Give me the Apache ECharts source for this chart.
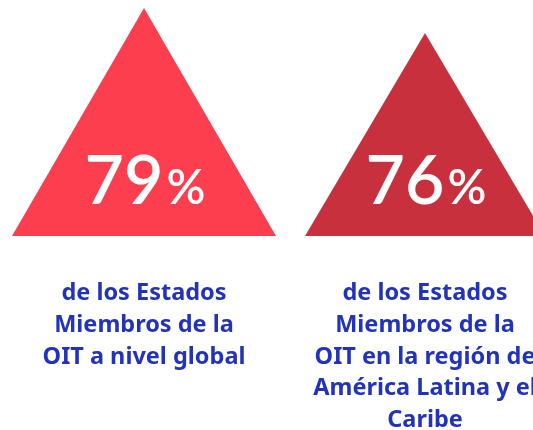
<!DOCTYPE html>
<html lang="es">
<head>
    <meta charset="UTF-8">
    <title>Estados Miembros de la OIT</title>
    <script src="https://cdn.jsdelivr.net/npm/echarts@6.0.0/dist/echarts.min.js"></script>
    <style>
        html, body { margin: 0; padding: 0; background: #fff; }
        #chart { width: 533px; height: 430px; }
    </style>
</head>
<body>
    <div id="chart"></div>

    <script>
        // datos
        const categories = [
            'de los Estados\nMiembros de la\nOIT a nivel global',
            'de los Estados\nMiembros de la\nOIT en la región de\nAmérica Latina y el\nCaribe'
        ];
        const values = [79, 76];
        const colors = ['#fd3e4f', '#c8303e'];
        const widths = [264, 240];

        const Y_MIN = 51.6;

        const chart = echarts.init(document.getElementById('chart'));

        // triángulo desde la base del eje hasta el valor
        function renderTriangle(params, api) {
            const i = params.dataIndex;
            const top = api.coord([api.value(0), api.value(1)]);
            const base = api.coord([api.value(0), Y_MIN]);
            const half = widths[i] / 2;
            return {
                type: 'group',
                children: [{
                    type: 'polygon',
                    shape: {
                        points: [[top[0] - half, base[1]], [top[0], top[1]], [top[0] + half, base[1]]]
                    },
                    style: { fill: colors[i] }
                }, {
                    type: 'text',
                    x: top[0] + 1,
                    y: base[1] - 20,
                    style: {
                        text: '{n|' + api.value(1) + '}{p|%}',
                        align: 'center',
                        verticalAlign: 'bottom',
                        rich: {
                            n: { fontFamily: 'Lato', fontWeight: 600, fontSize: 68, fill: '#fff', verticalAlign: 'bottom' },
                            p: { fontFamily: 'Lato', fontWeight: 600, fontSize: 48, fill: '#fff', verticalAlign: 'bottom', padding: [0, 0, 3, 3] }
                        }
                    }
                }]
            };
        }

        chart.setOption({
            animation: false,
            grid: {
                left: 3.5, right: -32.5, top: 8, bottom: 194,
                containLabel: false,
                outerBoundsMode: 'none'
            },
            xAxis: {
                type: 'category',
                data: categories,
                axisLine: { show: false },
                axisTick: { show: false },
                axisLabel: {
                    interval: 0,
                    margin: 42,
                    color: '#2233bb',
                    fontFamily: 'Noto Sans',
                    fontWeight: 'bold',
                    fontSize: 23.5,
                    lineHeight: 31.6
                }
            },
            yAxis: {
                type: 'value',
                min: Y_MIN,
                max: 79,
                show: false
            },
            series: [{
                type: 'custom',
                renderItem: renderTriangle,
                encode: { x: 0, y: 1 },
                data: values.map((v, i) => [i, v])
            }]
        });
    </script>
</body>
</html>
